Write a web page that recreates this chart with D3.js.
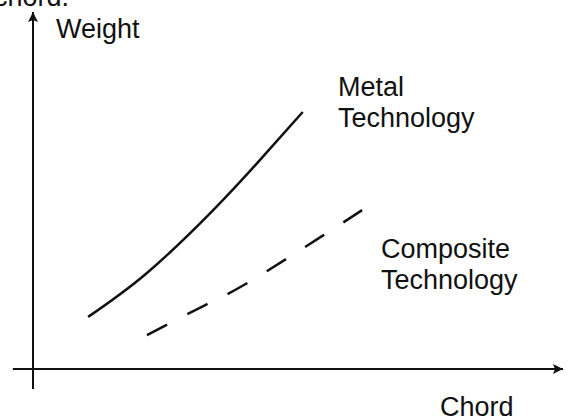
<!DOCTYPE html>
<html>
<head>
<meta charset="utf-8">
<script src="https://cdn.jsdelivr.net/npm/d3@7"></script>
<style>
  body { margin: 0; background: #fff; }
  text { font-family: "Liberation Sans", Arial, sans-serif; fill: #111; }
</style>
</head>
<body>
<svg id="chart"></svg>
<script>
var WIDTH = 571;
var HEIGHT = 420;

// chord / weight values, arbitrary units
var metalChord = [1.04, 2.15, 3.40, 4.28, 5.09];
var metalWeight = [1.46, 2.69, 4.45, 5.85, 7.20];
var compositeChord = [2.15, 3.25, 4.08, 5.43, 6.21];
var compositeWeight = [0.95, 1.79, 2.44, 3.70, 4.45];

var seriesNames = ['Metal Technology', 'Composite Technology'];
var axisLabels = ['Chord', 'Weight'];

var xScale = d3.scaleLinear().domain([0, 10]).range([33, 563]);
var yScale = d3.scaleLinear().domain([0, 10]).range([369, 12]);

var svg = d3.select('#chart')
    .attr('width', WIDTH)
    .attr('height', HEIGHT);

// arrowhead for both axes
svg.append('defs').append('marker')
    .attr('id', 'arrow')
    .attr('markerUnits', 'userSpaceOnUse')
    .attr('viewBox', '0 0 10 10')
    .attr('refX', 10)
    .attr('refY', 5)
    .attr('markerWidth', 11)
    .attr('markerHeight', 10)
    .attr('orient', 'auto')
    .append('path')
    .attr('d', 'M0,0 L10,5 L0,10 L2,5 Z')
    .attr('fill', '#111');

var zip = function(xs, ys){
    return xs.map(function(x, i){ return {chord: x, weight: ys[i]}; });
};

var line = d3.line()
    .x(function(d){ return xScale(d.chord); })
    .y(function(d){ return yScale(d.weight); })
    .curve(d3.curveNatural);

// axes, a bit past the origin like the sketch
svg.append('line')
    .attr('x1', xScale(-0.38)).attr('x2', xScale(10))
    .attr('y1', yScale(0)).attr('y2', yScale(0))
    .attr('stroke', '#111').attr('stroke-width', 2)
    .attr('marker-end', 'url(#arrow)');

svg.append('line')
    .attr('x1', xScale(0)).attr('x2', xScale(0))
    .attr('y1', yScale(-0.56)).attr('y2', yScale(10))
    .attr('stroke', '#111').attr('stroke-width', 2)
    .attr('marker-end', 'url(#arrow)');

svg.append('path')
    .datum(zip(metalChord, metalWeight))
    .attr('d', line)
    .attr('fill', 'none')
    .attr('stroke', '#111')
    .attr('stroke-width', 2.5);

var dashed = svg.append('path')
    .datum(zip(compositeChord, compositeWeight))
    .attr('d', line)
    .attr('fill', 'none')
    .attr('stroke', '#111')
    .attr('stroke-width', 2.5);

// 6 dashes, 5 gaps, so both ends finish on a dash
var seg = dashed.node().getTotalLength() / 11;
dashed.attr('stroke-dasharray', seg + ',' + seg);

var addLabel = function(x, y, lines){
    var t = svg.append('text')
        .attr('x', x)
        .attr('y', y)
        .style('font-size', '27px');
    lines.forEach(function(s, i){
        t.append('tspan').attr('x', x).attr('dy', i === 0 ? 0 : 31).text(s);
    });
};

// cut-off caption at the top edge
addLabel(-6, 6, ['chord.']);
addLabel(56, 38, [axisLabels[1]]);
addLabel(440, 416, [axisLabels[0]]);
addLabel(338, 96, seriesNames[0].split(' '));
addLabel(381, 258, seriesNames[1].split(' '));
</script>
</body>
</html>
